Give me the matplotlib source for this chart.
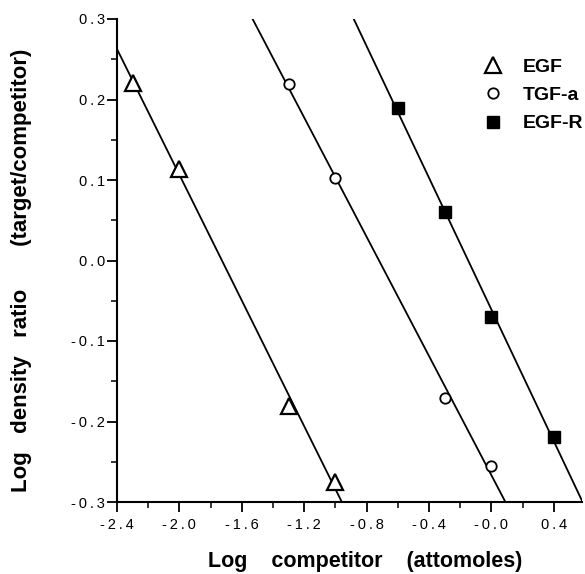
import numpy as np
import matplotlib
matplotlib.use("Agg")
import matplotlib.pyplot as plt
from matplotlib.ticker import FixedLocator, FixedFormatter, MultipleLocator

plt.rcParams['font.family'] = ['Liberation Sans', 'DejaVu Sans']

# data
egf_x = [-2.3, -2.0, -1.3, -1.0]
egf_y = [0.221, 0.114, -0.181, -0.275]
tgf_x = [-1.3, -1.0, -0.3, 0.0]
tgf_y = [0.219, 0.102, -0.171, -0.255]
egfr_x = [-0.6, -0.3, 0.0, 0.4]
egfr_y = [0.189, 0.060, -0.070, -0.219]

x_ticks = [-2.4, -2.0, -1.6, -1.2, -0.8, -0.4, 0.0, 0.4]
x_labels = ['-2.4', '-2.0', '-1.6', '-1.2', '-0.8', '-0.4', '-0.0', '0.4']
y_ticks = [-0.3, -0.2, -0.1, 0.0, 0.1, 0.2, 0.3]
y_labels = ['-0.3', '-0.2', '-0.1', '0.0', '0.1', '0.2', '0.3']


def spaced(s):
    # mimic the loose letter spacing of the original tick labels
    return '\u2009'.join(s)


fig = plt.figure(figsize=(5.85, 5.74), dpi=100)
ax = fig.add_axes([117 / 585, 72 / 574, 465 / 585, 483 / 574])

series = [
    (egf_x, egf_y, dict(marker='^', mfc='white', mec='black', ms=11, mew=1.6), 'EGF'),
    (tgf_x, tgf_y, dict(marker='o', mfc='white', mec='black', ms=7.5, mew=1.3), 'TGF-a'),
    (egfr_x, egfr_y, dict(marker='s', mfc='black', mec='black', ms=8.5, mew=1.0), 'EGF-R'),
]

xx = np.array([-3.0, 1.0])
handles = []
for x, y, style, name in series:
    slope, icpt = np.polyfit(x, y, 1)
    ax.plot(xx, slope * xx + icpt, color='black', lw=1.3, zorder=2)
    h, = ax.plot(x, y, ls='none', zorder=3, **style)
    handles.append(h)

ax.set_xlim(-2.4, 0.58)
ax.set_ylim(-0.3, 0.3)

ax.spines['top'].set_visible(False)
ax.spines['right'].set_visible(False)
ax.spines['left'].set_linewidth(1.5)
ax.spines['bottom'].set_linewidth(1.5)

ax.xaxis.set_major_locator(FixedLocator(x_ticks))
ax.xaxis.set_major_formatter(FixedFormatter([spaced(s) for s in x_labels]))
ax.xaxis.set_minor_locator(MultipleLocator(0.2))
ax.yaxis.set_major_locator(FixedLocator(y_ticks))
ax.yaxis.set_major_formatter(FixedFormatter([spaced(s) for s in y_labels]))
ax.yaxis.set_minor_locator(MultipleLocator(0.05))
ax.tick_params(which='major', direction='out', length=7, width=1.3,
               labelsize=10.5)
ax.tick_params(axis='x', which='major', pad=4.5)
ax.tick_params(axis='y', which='major', pad=1.5)
ax.tick_params(which='minor', direction='out', length=4, width=1.1)

leg = ax.legend(handles, [s[3] for s in series], loc='upper right',
                bbox_to_anchor=(1.04, 0.955), frameon=False,
                prop=dict(weight='bold', size=14), handlelength=1.0,
                handletextpad=1.0, labelspacing=0.55)

fig.text(365 / 585, 1 - 561 / 574, 'Log    competitor    (attomoles)',
         ha='center', va='center', fontsize=15.5, fontweight='bold')
fig.text(22 / 585, 1 - 270 / 574, 'Log   density   ratio       (target/competitor)',
         ha='center', va='center', rotation=90, fontsize=16, fontweight='bold')

fig.savefig('out.png', dpi=100)
